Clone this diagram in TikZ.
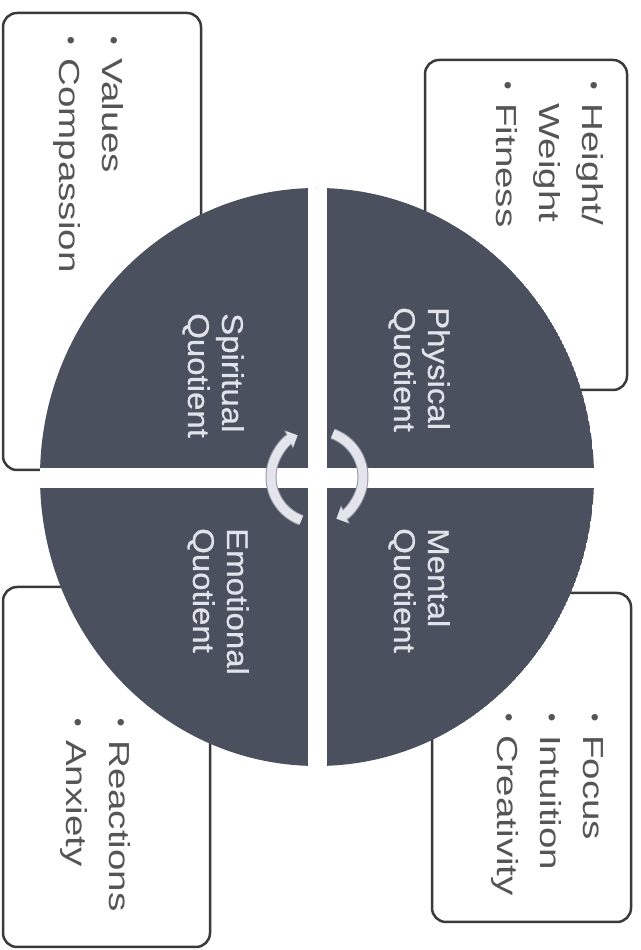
\documentclass[tikz,border=0pt]{standalone}
\usepackage{fontspec}
\setmainfont{Liberation Sans}
\newfontfamily\listfont[FakeStretch=1.33]{Liberation Sans}
\newfontfamily\labelfont[FakeStretch=1.1, FakeBold=0.6]{Liberation Sans}
\usetikzlibrary{arrows.meta}
\definecolor{discDark}{HTML}{4A505E}
\definecolor{boxLine}{HTML}{3A3A3A}
\definecolor{listGray}{HTML}{555555}
\definecolor{labelWhite}{HTML}{E2E3EA}
\definecolor{arcFill}{HTML}{E4E5EC}
\definecolor{arcEdge}{HTML}{9597A6}
\newcommand{\itm}{\makebox[22pt][l]{\raisebox{3pt}{\normalfont\fontsize{24pt}{24pt}\selectfont\textbullet}}}
\newcommand{\itmskip}{\hspace*{22pt}}

\begin{document}
\begin{tikzpicture}[x=1pt, y=1pt]
\tikzstyle{box}=[draw=boxLine, line width=2.5pt, rounded corners=14pt, fill=white]
\tikzstyle{qlabel}=[text=labelWhite, font=\fontsize{30pt}{34pt}\labelfont, rotate=-90, anchor=north west, align=left, inner sep=0pt]
\tikzstyle{items}=[text=listGray, font=\fontsize{29pt}{43pt}\listfont, rotate=-90, anchor=north west, align=left, inner sep=0pt]
\tikzstyle{turn}=[draw=arcFill, line width=9pt, -{Triangle[width=17pt,length=9pt]}, preaction={draw=arcEdge, line width=11pt, -{Triangle[width=20pt,length=10pt]}}]
\useasboundingbox (0,0) rectangle (640,950);
% boxes behind the disc
\node[box, minimum width=198pt, minimum height=457pt] (spBox) at (102,708.5) {};
\node[box, minimum width=202pt, minimum height=330pt] (phBox) at (526,725) {};
\node[box, minimum width=199pt, minimum height=329pt] (meBox) at (531.5,192.5) {};
\node[box, minimum width=207pt, minimum height=360pt] (emBox) at (106.5,183) {};
% the disc, cut in four
\coordinate (hub) at (317,473);
\begin{scope}
\clip (hub) ellipse [x radius=277, y radius=289];
\fill[discDark] (hub) ellipse [x radius=277, y radius=289];
\fill[white] (307.5,0) rectangle (326.5,950);
\fill[white] (0,462) rectangle (640,482);
\end{scope}
\draw[turn] ([shift={(250:46)}]hub) arc[start angle=250, end angle=115, radius=46];
\draw[turn] ([shift={(70:46)}]hub) arc[start angle=70, end angle=-65, radius=46];
% quarter names
\node[qlabel] (phLabel) at (450,643) {Physical\\Quotient};
\node[qlabel] (spLabel) at (244,637) {Spiritual\\Quotient};
\node[qlabel] (meLabel) at (450,422) {Mental\\Quotient};
\node[qlabel] (emLabel) at (249,422) {Emotional\\Quotient};
% lists
\node[items] (spList) at (124,914) {\itm Values\\\itm Compassion};
\node[items] (phList) at (604,869) {\itm Height/\\\itmskip Weight\\\itm Fitness};
\node[items] (meList) at (604,237) {\itm Focus\\\itm Intuition\\\itm Creativity};
\node[items] (emList) at (131,232) {\itm Reactions\\\itm Anxiety};
\end{tikzpicture}
\end{document}
